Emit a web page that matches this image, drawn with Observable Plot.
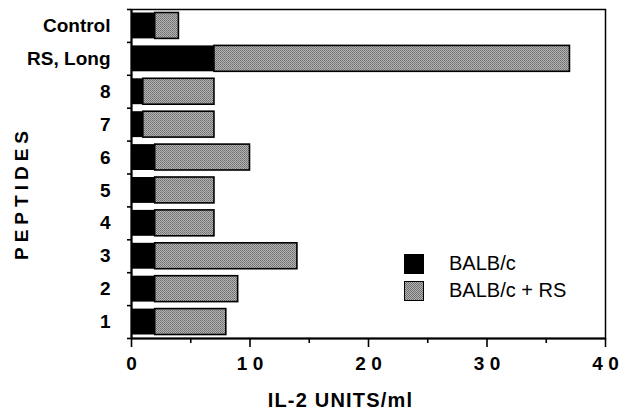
<!DOCTYPE html>
<html>
<head>
<meta charset="utf-8">
<script src="https://cdn.jsdelivr.net/npm/d3@7"></script>
<script src="https://cdn.jsdelivr.net/npm/@observablehq/plot@0.6"></script>
<style>
  html, body { margin: 0; padding: 0; background: #fff; }
  #wrap { position: relative; width: 620px; height: 411px; font-family: "Liberation Sans", Arial, sans-serif; }
  #legend { position: absolute; left: 404px; top: 250px; font-size: 20px; color: #000; }
  .item { display: flex; align-items: center; height: 27px; }
  .sw { width: 20px; height: 20px; margin-right: 25px; box-sizing: border-box; }
  .sw.black { background: #000; }
  .sw.gray { border: 1px solid #000; background-image: repeating-conic-gradient(#6e6e6e 0 25%, #b4b4b4 0 50%); background-size: 2px 2px; }
  #ytitle { position: absolute; left: 22px; top: 193px; transform: translate(-50%, -50%) rotate(-90deg); font-size: 19px; font-weight: bold; letter-spacing: 5px; white-space: nowrap; }
</style>
</head>
<body>
<div id="wrap">
  <div id="chart"></div>
  <div id="ytitle">PEPTIDES</div>
  <div id="legend"></div>
</div>
<script>
// Data (top to bottom in the chart)
const peptides = ["Control", "RS, Long", "8", "7", "6", "5", "4", "3", "2", "1"];
const balbc    = [2, 7, 1, 1, 2, 2, 2, 2, 2, 2];        // BALB/c
const balbcRS  = [4, 37, 7, 7, 10, 7, 7, 14, 9, 8];     // BALB/c + RS (bar end)
const xTicks = [0, 10, 20, 30, 40];
const xTickLabels = ["0", "1 0", "2 0", "3 0", "4 0"];
const xMinorTicks = [5, 15, 25, 35];
const legendLabels = ["BALB/c", "BALB/c + RS"];
const xTitle = "IL-2 UNITS/ml";

const n = peptides.length;
const rows = peptides.map((p, i) => ({
  name: p, pos: n - 1 - i, black: balbc[i], total: balbcRS[i]
}));
const yBounds = d3.range(0, n + 1);
const blank = () => "";

const font = "Liberation Sans, Arial, sans-serif";
const chart = Plot.plot({
  width: 620,
  height: 411,
  marginLeft: 131,
  marginRight: 15,
  marginTop: 9,
  marginBottom: 73,
  style: { fontFamily: font, fontSize: "19px", fontWeight: "bold", color: "#000", background: "#fff" },
  x: { domain: [0, 40] },
  y: { domain: [0, n] },
  marks: [
    Plot.rectX(rows, { x1: "black", x2: "total", y1: "pos", y2: d => d.pos + 1, insetTop: 3.5, insetBottom: 3.5, fill: "url(#stip)", stroke: "#000", strokeWidth: 1.6 }),
    Plot.rectX(rows, { x1: 0, x2: "black", y1: "pos", y2: d => d.pos + 1, insetTop: 3.5, insetBottom: 3.5, fill: "#000" }),
    Plot.frame({ stroke: "#000", strokeWidth: 1.5 }),
    Plot.ruleY([0], { stroke: "#000", strokeWidth: 2.2 }),
    Plot.ruleX([0], { stroke: "#000", strokeWidth: 2 }),
    Plot.axisX(xTicks, { tickSize: 9, tickPadding: 9, tickFormat: (d, i) => xTickLabels[i], strokeWidth: 1.6, label: null, fontSize: 19, fontWeight: "bold" }),
    Plot.axisX(xMinorTicks, { tickSize: 5, tickFormat: blank, strokeWidth: 1.6, label: null }),
    Plot.axisY(yBounds, { tickSize: 4, tickFormat: blank, strokeWidth: 1.6, label: null }),
    Plot.axisY(rows.map(d => d.pos + 0.5), { tickSize: 0, tickPadding: 21, tickFormat: v => rows.find(r => r.pos + 0.5 === v).name, label: null, fontSize: 19, fontWeight: "bold" }),
    Plot.text([xTitle], { frameAnchor: "bottom", dy: 68, dx: -28, fontSize: 20, fontWeight: "bold" })
  ]
});

// stipple pattern for the gray bars
const svg = d3.select(chart);
const defs = svg.insert("defs", ":first-child");
const pat = defs.append("pattern").attr("id", "stip").attr("width", 2).attr("height", 2).attr("patternUnits", "userSpaceOnUse");
pat.append("rect").attr("width", 2).attr("height", 2).attr("fill", "#b4b4b4");
pat.append("rect").attr("width", 1).attr("height", 1).attr("fill", "#6e6e6e");
pat.append("rect").attr("x", 1).attr("y", 1).attr("width", 1).attr("height", 1).attr("fill", "#7e7e7e");

// slightly wider tracking for the x-axis title, as in the original
svg.selectAll("text").filter(function () { return this.textContent === xTitle; }).style("letter-spacing", "1.2px");

document.getElementById("chart").appendChild(chart);

const legend = d3.select("#legend");
legendLabels.forEach((lab, i) => {
  const it = legend.append("div").attr("class", "item");
  it.append("div").attr("class", "sw " + (i === 0 ? "black" : "gray"));
  it.append("span").text(lab);
});
</script>
</body>
</html>
